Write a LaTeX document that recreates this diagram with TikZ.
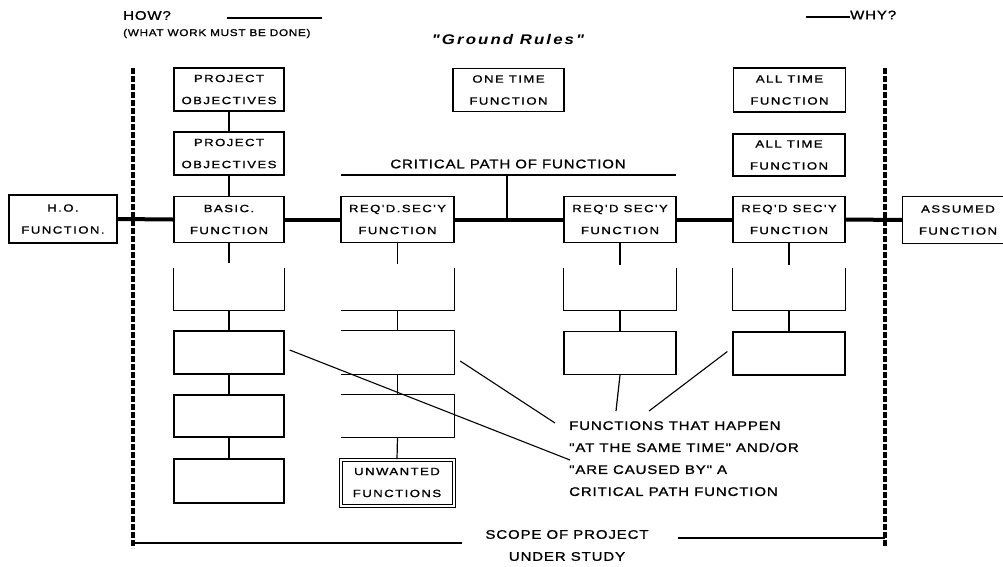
\documentclass[tikz,border=0pt]{standalone}
\usepackage{fontspec}
\setmainfont{Liberation Sans}
\newfontfamily\boxfont[FakeStretch=1.25,LetterSpace=14,FakeBold=1.2]{Liberation Sans}
\newfontfamily\scanfont[FakeStretch=1.2,LetterSpace=7,FakeBold=1.2]{Liberation Sans}
\newfontfamily\titlefont[FakeStretch=1.2,LetterSpace=15]{Liberation Sans}
\tikzset{
  boxtext/.style={font=\boxfont\fontsize{10.5}{22}\selectfont, align=center},
  fbox/.style={boxtext, draw, line width=1.3pt, rectangle, inner sep=0pt},
  slot/.style={rectangle, inner sep=0pt},
  side/.style={line width=1.3pt},
  link/.style={line width=1.2pt},
  cpath/.style={line width=4pt},
  boundary/.style={line width=3.2pt, dash pattern=on 6pt off 2pt},
  lead/.style={line width=1.1pt},
  lbl/.style={font=\scanfont\fontsize{12.5}{22}\selectfont, inner sep=0pt},
  smalllbl/.style={font=\scanfont\fontsize{9.8}{10}\selectfont, inner sep=0pt},
  titlelbl/.style={font=\titlefont\bfseries\itshape\fontsize{14}{16}\selectfont, inner sep=0pt}
}
\begin{document}
\begin{tikzpicture}[x=1pt,y=-1pt]
\useasboundingbox (0,0) rectangle (1003,566);

% header
\node[lbl, anchor=west] (how) at (123,15.5) {HOW?};
\node[smalllbl, anchor=west] (what) at (123,33.5) {(WHAT WORK MUST BE DONE)};
\coordinate (howa) at (227,18);
\coordinate (howb) at (322,18);
\draw[link] (howa) -- (howb);
\node[titlelbl] (gr) at (508,39) {"Ground Rules"};
\node[lbl, anchor=west] (why) at (850,15) {WHY?};
\coordinate (whya) at (806,17);
\draw[link] (whya) -- (whya -| why.west);

% boundaries
\coordinate (lt) at (133,68);
\coordinate (lb) at (133,548);
\coordinate (rt) at (885,68);
\coordinate (rb) at (885,546);
\draw[boundary] (lt) -- (lb);
\draw[boundary] (rt) -- (rb);

% top boxes
\node[fbox, minimum width=110pt, minimum height=43pt] (po1) at (229,89.5) {PROJECT\\OBJECTIVES};
\node[fbox, minimum width=110pt, minimum height=43pt] (po2) at (229,153.5) {PROJECT\\OBJECTIVES};
\node[fbox, minimum width=111pt, minimum height=43pt] (one) at (508.5,90) {ONE TIME\\FUNCTION};
\node[fbox, minimum width=112pt, minimum height=44pt] (all1) at (789.5,90) {ALL TIME\\FUNCTION};
\node[fbox, minimum width=112pt, minimum height=42pt] (all2) at (789,155) {ALL TIME\\FUNCTION};

% main row
\node[fbox, minimum width=108pt, minimum height=48pt] (ho) at (63,219) {H.O.\\FUNCTION.};
\node[fbox, minimum width=110pt, minimum height=46pt] (basic) at (229,219.5) {BASIC.\\FUNCTION};
\node[fbox, minimum width=113pt, minimum height=46pt] (req1) at (397.5,219.5) {REQ'D.SEC'Y\\FUNCTION};
\node[fbox, minimum width=112pt, minimum height=46pt] (req2) at (620,219.5) {REQ'D SEC'Y\\FUNCTION};
\node[fbox, minimum width=112pt, minimum height=46pt] (req3) at (789,219.5) {REQ'D SEC'Y\\FUNCTION};
\node[slot, boxtext, minimum width=100pt, minimum height=47pt] (assumed) at (953,220) {\hspace*{10pt}ASSUMED\\\hspace*{10pt}FUNCTION};
\draw[side] (assumed.north east) -- (assumed.north west) -- (assumed.south west) -- (assumed.south east);

% critical path
\draw[cpath] (ho.east) -- (basic.west);
\draw[cpath] (basic.east) -- (req1.west);
\draw[cpath] (req1.east) -- (req2.west);
\draw[cpath] (req2.east) -- (req3.west);
\draw[cpath] (req3.east) -- (assumed.west);
\node[lbl] (cp) at (508,164) {CRITICAL PATH OF FUNCTION};
\coordinate (cpl) at (341,175);
\coordinate (cpr) at (676,175);
\coordinate (cpm) at (507,175);
\draw[link] (cpl) -- (cpr);
\draw[link] (cpm) -- (cpm |- req1.center);

% top connectors
\draw[link] (po1.south) -- (po2.north);
\draw[link] (po2.south) -- (basic.north);

% column 1
\node[slot, minimum width=110pt, minimum height=42pt] (c1r1) at (229,289) {};
\node[fbox, minimum width=110pt, minimum height=43pt] (c1r2) at (229,352.5) {};
\node[fbox, minimum width=110pt, minimum height=42pt] (c1r3) at (229,416) {};
\node[fbox, minimum width=110pt, minimum height=44pt] (c1r4) at (229,481) {};
\draw[side] (c1r1.north west) -- (c1r1.south west) -- (c1r1.south east) -- (c1r1.north east);
\draw[link, shorten >=5pt] (basic.south) -- (c1r1.north);
\draw[link] (c1r1.south) -- (c1r2.north);
\draw[link] (c1r2.south) -- (c1r3.north);
\draw[link] (c1r3.south) -- (c1r4.north);

% column 2
\node[slot, minimum width=113pt, minimum height=42pt] (c2r1) at (397.5,289) {};
\node[slot, minimum width=113pt, minimum height=43pt] (c2r2) at (397.5,352.5) {};
\node[slot, minimum width=113pt, minimum height=42pt] (c2r3) at (397.5,416) {};
\node[fbox, double, double distance=2pt, line width=1pt, minimum width=113pt, minimum height=46pt] (unw) at (397,482.5) {UNWANTED\\FUNCTIONS};
\draw[side] (c2r1.south west) -- (c2r1.south east) -- (c2r1.north east);
\draw[side] (c2r2.north west) -- (c2r2.north east) -- (c2r2.south east) -- (c2r2.south west);
\draw[side] (c2r3.north west) -- (c2r3.north east) -- (c2r3.south east) -- (c2r3.south west);
\draw[link, shorten >=4pt] (req1.south) -- (c2r1.north);
\draw[link] (c2r1.south) -- (c2r2.north);
\draw[link] (c2r2.south) -- (c2r3.north);
\draw[link] (c2r3.south) -- (unw.north);

% column 3
\node[slot, minimum width=112pt, minimum height=42pt] (c3r1) at (620,289) {};
\node[fbox, minimum width=112pt, minimum height=43pt] (c3r2) at (620,353) {};
\draw[side] (c3r1.north west) -- (c3r1.south west) -- (c3r1.south east) -- (c3r1.north east);
\draw[link, shorten >=3pt] (req2.south) -- (c3r1.north);
\draw[link] (c3r1.south) -- (c3r2.north);

% column 4
\node[slot, minimum width=112pt, minimum height=42pt] (c4r1) at (789,289) {};
\node[fbox, minimum width=112pt, minimum height=43pt] (c4r2) at (789,353.5) {};
\draw[side] (c4r1.north west) -- (c4r1.south west) -- (c4r1.south east) -- (c4r1.north east);
\draw[link, shorten >=3pt] (req3.south) -- (c4r1.north);
\draw[link] (c4r1.south) -- (c4r2.north);

% annotation
\node[lbl, align=left, anchor=north west] (note) at (569,421) {FUNCTIONS THAT HAPPEN\\"AT THE SAME TIME" AND/OR\\"ARE CAUSED BY" A\\CRITICAL PATH FUNCTION};
\coordinate (noteC) at (616,411);
\draw[link] (c3r2.south) -- (noteC);
\coordinate (aA) at (570,460);
\coordinate (aB) at (555,423);
\coordinate (aC) at (649,411);
\draw[lead] ([xshift=5pt,yshift=2.5pt]c1r2.east) -- (aA);
\draw[lead] ([xshift=6pt,yshift=-8.5pt]c2r2.east) -- (aB);
\draw[lead] ([xshift=-5pt,yshift=2pt]c4r2.west) -- (aC);

% scope
\node[lbl, align=center] (scope) at (567,545.5) {SCOPE OF PROJECT\\UNDER STUDY};
\coordinate (bl1) at (133,543);
\coordinate (bl2) at (462,543);
\coordinate (br1) at (678,538);
\coordinate (br2) at (885,538);
\draw[link] (bl1) -- (bl2);
\draw[link] (br1) -- (br2);
\end{tikzpicture}
\end{document}
